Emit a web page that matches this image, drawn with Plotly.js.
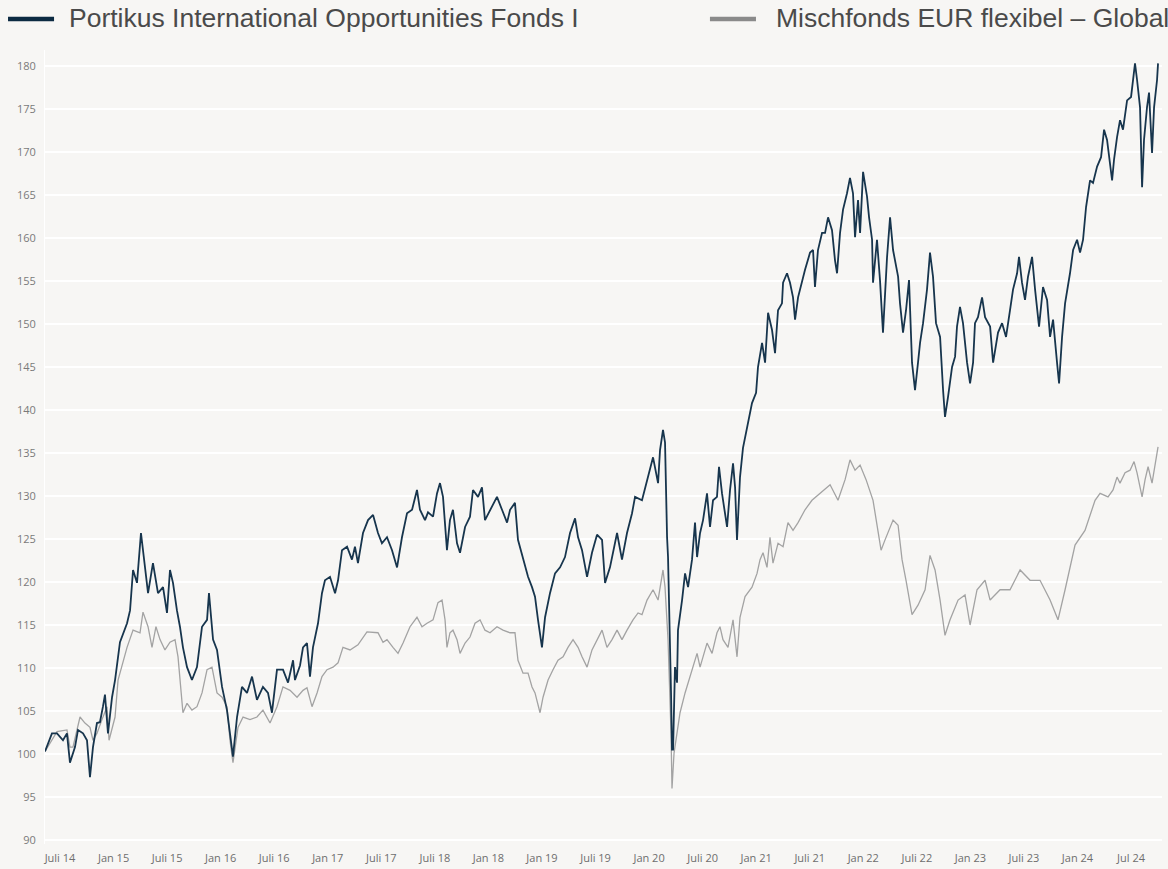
<!DOCTYPE html>
<html>
<head>
<meta charset="utf-8">
<script src="https://cdn.plot.ly/plotly-3.0.1.min.js"></script>
<style>
html,body{margin:0;padding:0;background:#f7f6f4;}
#chart{width:1168px;height:869px;}
</style>
</head>
<body>
<div id="chart"></div>
<script>
// Portikus International Opportunities Fonds I (time in decimal years, indexed value)
const portikusDates = [2014.360,2014.425,2014.472,2014.528,2014.565,2014.593,2014.640,2014.668,2014.715,2014.752,2014.780,2014.808,2014.845,2014.873,2014.901,2014.920,2014.948,2014.986,2015.014,2015.060,2015.126,2015.154,2015.182,2015.219,2015.256,2015.284,2015.322,2015.368,2015.415,2015.462,2015.499,2015.527,2015.555,2015.592,2015.620,2015.648,2015.686,2015.732,2015.779,2015.826,2015.873,2015.891,2015.929,2015.966,2016.013,2016.059,2016.087,2016.115,2016.153,2016.199,2016.246,2016.293,2016.339,2016.395,2016.442,2016.479,2016.526,2016.582,2016.629,2016.676,2016.694,2016.741,2016.769,2016.806,2016.834,2016.862,2016.909,2016.946,2016.974,2017.021,2017.068,2017.096,2017.133,2017.180,2017.226,2017.254,2017.282,2017.329,2017.376,2017.423,2017.469,2017.506,2017.553,2017.600,2017.647,2017.693,2017.740,2017.787,2017.833,2017.861,2017.908,2017.936,2017.983,2018.020,2018.048,2018.076,2018.113,2018.141,2018.169,2018.207,2018.235,2018.282,2018.328,2018.356,2018.403,2018.440,2018.468,2018.515,2018.580,2018.627,2018.674,2018.702,2018.748,2018.776,2018.823,2018.870,2018.907,2018.935,2018.963,2019.000,2019.029,2019.075,2019.122,2019.169,2019.215,2019.262,2019.309,2019.337,2019.374,2019.421,2019.467,2019.514,2019.561,2019.589,2019.635,2019.701,2019.747,2019.794,2019.841,2019.869,2019.934,2019.981,2020.037,2020.084,2020.102,2020.130,2020.149,2020.168,2020.177,2020.205,2020.214,2020.224,2020.242,2020.261,2020.270,2020.308,2020.336,2020.364,2020.401,2020.429,2020.448,2020.476,2020.504,2020.541,2020.569,2020.597,2020.634,2020.653,2020.681,2020.728,2020.756,2020.784,2020.803,2020.821,2020.849,2020.877,2020.924,2020.961,2020.999,2021.017,2021.055,2021.083,2021.111,2021.148,2021.176,2021.204,2021.241,2021.251,2021.288,2021.316,2021.344,2021.363,2021.391,2021.428,2021.456,2021.503,2021.531,2021.549,2021.577,2021.615,2021.643,2021.671,2021.708,2021.736,2021.755,2021.783,2021.811,2021.848,2021.876,2021.904,2021.923,2021.951,2021.970,2021.998,2022.035,2022.054,2022.082,2022.091,2022.128,2022.156,2022.175,2022.184,2022.222,2022.250,2022.278,2022.325,2022.343,2022.371,2022.399,2022.427,2022.455,2022.483,2022.511,2022.530,2022.558,2022.595,2022.623,2022.651,2022.679,2022.717,2022.745,2022.763,2022.791,2022.829,2022.857,2022.875,2022.903,2022.931,2022.969,2022.997,2023.025,2023.043,2023.071,2023.109,2023.137,2023.184,2023.212,2023.230,2023.258,2023.296,2023.333,2023.370,2023.398,2023.436,2023.454,2023.482,2023.510,2023.538,2023.576,2023.604,2023.641,2023.678,2023.716,2023.744,2023.772,2023.809,2023.828,2023.856,2023.884,2023.930,2023.959,2023.996,2024.024,2024.052,2024.080,2024.117,2024.145,2024.183,2024.220,2024.248,2024.276,2024.323,2024.341,2024.369,2024.397,2024.425,2024.463,2024.500,2024.537,2024.556,2024.584,2024.603,2024.621,2024.649,2024.668,2024.696,2024.715,2024.743,2024.752];
const portikusValues = [100.3,102.4,102.4,101.6,102.4,99.0,100.8,102.8,102.4,101.6,97.3,100.8,103.6,103.7,105.5,106.9,102.4,106.6,108.6,113.0,115.2,116.7,121.4,119.9,125.7,122.6,118.7,122.2,118.7,119.4,116.4,121.4,119.9,116.7,114.8,112.4,110.1,108.6,110.1,114.8,115.6,118.7,113.3,112.1,107.8,105.1,102.4,99.7,104.3,107.8,107.1,109.0,106.3,107.8,107.1,104.8,109.8,109.8,108.3,110.9,108.6,110.3,112.4,112.9,109.0,112.4,115.2,118.7,120.2,120.6,118.7,120.2,123.7,124.1,122.6,124.1,122.2,125.7,127.2,127.8,125.7,124.5,125.2,123.7,121.7,125.2,128.0,128.4,130.7,128.4,127.2,128.1,127.6,130.3,131.5,129.9,123.7,127.2,128.4,124.5,123.4,126.4,127.6,130.7,129.9,131.0,127.2,128.4,129.9,128.4,126.9,128.4,129.2,124.9,122.9,120.6,119.4,118.3,115.6,112.4,115.9,118.7,121.0,121.7,122.9,125.7,127.4,125.2,123.7,120.6,123.4,125.5,124.9,119.9,121.7,125.7,122.6,125.7,128.0,129.9,129.5,131.9,134.5,131.5,135.3,137.7,136.2,125.2,122.9,107.1,100.5,100.5,110.1,108.3,114.4,117.9,121.0,119.4,122.6,126.9,122.9,125.7,127.2,130.3,126.4,129.5,129.9,133.4,130.3,126.4,130.7,133.8,131.0,124.9,132.2,135.6,138.5,140.8,142.0,145.0,147.8,145.5,151.3,149.3,146.6,151.6,152.4,154.8,155.9,154.8,153.1,150.5,153.1,155.1,156.3,158.3,158.6,154.3,158.6,160.6,160.6,162.4,160.9,157.4,155.9,160.6,163.3,165.2,167.0,165.2,160.1,164.4,160.6,167.7,164.8,162.4,159.8,154.8,159.8,155.1,151.6,149.0,157.8,162.4,158.6,155.5,152.4,149.0,151.6,155.1,145.5,142.3,145.5,147.8,150.1,154.0,158.3,155.5,150.1,148.5,142.3,139.2,141.5,145.0,146.2,149.7,152.0,150.1,145.5,143.1,145.5,150.1,150.8,153.1,150.8,149.7,145.5,147.0,149.0,150.1,148.5,151.6,154.0,155.9,157.8,154.8,152.8,155.5,157.8,154.0,149.7,154.3,152.8,148.5,150.5,145.5,143.1,148.5,152.4,155.9,158.6,159.8,158.3,159.8,163.6,166.7,166.4,168.3,169.4,172.6,171.4,166.7,169.1,171.7,173.7,172.6,176.0,176.4,180.3,178.4,175.2,165.9,171.4,175.2,176.9,169.9,175.2,178.4,180.3];

// Mischfonds EUR flexibel – Global (peer group)
const mischDates = [2014.360,2014.472,2014.565,2014.593,2014.621,2014.687,2014.733,2014.780,2014.808,2014.845,2014.892,2014.939,2014.958,2015.014,2015.042,2015.126,2015.182,2015.247,2015.275,2015.322,2015.359,2015.396,2015.434,2015.480,2015.527,2015.574,2015.602,2015.648,2015.686,2015.732,2015.779,2015.826,2015.873,2015.919,2015.966,2016.013,2016.059,2016.087,2016.115,2016.162,2016.209,2016.274,2016.339,2016.395,2016.461,2016.526,2016.582,2016.648,2016.713,2016.769,2016.806,2016.853,2016.900,2016.946,2016.993,2017.049,2017.096,2017.142,2017.208,2017.282,2017.366,2017.423,2017.469,2017.516,2017.553,2017.609,2017.656,2017.703,2017.768,2017.833,2017.880,2017.927,2017.983,2018.029,2018.067,2018.095,2018.113,2018.141,2018.169,2018.207,2018.235,2018.282,2018.328,2018.375,2018.422,2018.468,2018.515,2018.580,2018.636,2018.702,2018.748,2018.776,2018.823,2018.870,2018.907,2018.935,2018.982,2019.010,2019.057,2019.103,2019.150,2019.197,2019.243,2019.290,2019.337,2019.374,2019.421,2019.467,2019.514,2019.561,2019.607,2019.654,2019.701,2019.747,2019.794,2019.850,2019.897,2019.934,2019.981,2020.037,2020.084,2020.130,2020.149,2020.168,2020.177,2020.205,2020.214,2020.233,2020.261,2020.289,2020.336,2020.382,2020.448,2020.476,2020.541,2020.588,2020.634,2020.662,2020.690,2020.737,2020.784,2020.821,2020.849,2020.896,2020.961,2021.008,2021.036,2021.064,2021.101,2021.129,2021.157,2021.204,2021.251,2021.297,2021.344,2021.391,2021.456,2021.521,2021.577,2021.624,2021.690,2021.764,2021.830,2021.876,2021.923,2021.970,2022.026,2022.091,2022.138,2022.166,2022.203,2022.278,2022.325,2022.362,2022.399,2022.455,2022.511,2022.577,2022.623,2022.670,2022.717,2022.763,2022.810,2022.885,2022.950,2022.997,2023.062,2023.137,2023.184,2023.277,2023.370,2023.464,2023.557,2023.650,2023.744,2023.818,2023.884,2023.977,2024.070,2024.164,2024.211,2024.285,2024.332,2024.369,2024.397,2024.444,2024.491,2024.528,2024.556,2024.603,2024.631,2024.659,2024.696,2024.724,2024.743,2024.752];
const mischValues = [100.3,102.6,102.8,100.8,100.8,104.3,103.6,103.1,101.6,102.4,104.0,105.5,101.6,104.3,108.6,112.4,114.4,114.1,116.5,114.8,112.4,114.8,113.3,112.1,113.0,113.3,111.3,104.8,105.9,105.1,105.5,107.1,109.8,110.1,107.1,106.6,105.5,101.6,99.0,103.1,104.3,104.0,104.3,105.1,103.6,105.5,107.8,107.4,106.6,107.4,107.7,105.5,107.1,109.0,109.8,110.1,110.6,112.4,112.1,112.7,114.2,114.1,114.1,113.0,113.3,112.4,111.7,112.9,114.8,115.9,114.8,115.2,115.6,117.6,117.9,115.6,112.4,114.1,114.4,113.3,111.7,112.9,113.6,115.2,115.6,114.4,114.1,114.8,114.4,114.1,114.1,110.9,109.4,109.4,107.8,107.1,104.8,106.6,108.6,109.8,110.9,111.3,112.4,113.3,112.4,111.3,110.1,112.1,113.3,114.4,112.4,113.3,114.4,113.3,114.4,115.6,116.4,116.2,117.9,119.1,117.9,121.4,119.4,114.1,113.3,102.4,96.0,100.1,102.4,104.8,107.1,109.0,111.7,110.1,112.9,111.7,114.1,114.8,113.3,112.4,115.6,111.3,115.9,118.3,119.4,121.0,122.6,123.4,121.7,125.2,122.2,124.5,124.1,126.9,126.0,126.9,128.4,129.5,130.1,130.7,131.3,129.5,131.9,134.2,133.0,133.6,131.9,129.5,126.0,123.7,124.9,127.2,126.6,122.6,120.2,116.2,117.3,119.1,123.1,121.4,117.9,113.8,115.6,117.9,118.5,115.0,119.1,120.2,117.9,119.1,119.1,121.4,120.2,120.2,117.9,115.6,119.1,124.3,126.0,129.5,130.3,129.9,130.7,132.2,131.5,132.7,133.0,134.0,132.7,129.9,131.9,133.4,131.5,133.8,135.3,135.7];

// Axis ticks
const xTickYears = [2014.5,2015.0,2015.5,2016.0,2016.5,2017.0,2017.5,2018.0,2018.5,2019.0,2019.5,2020.0,2020.5,2021.0,2021.5,2022.0,2022.5,2023.0,2023.5,2024.0,2024.5];
const xTickLabels = ["Juli 14","Jan 15","Juli 15","Jan 16","Juli 16","Jan 17","Juli 17","Juli 18","Jan 18","Jan 19","Juli 19","Jan 20","Juli 20","Jan 21","Juli 21","Jan 22","Juli 22","Jan 23","Juli 23","Jan 24","Jul 24"];
const yTickValues = [90,95,100,105,110,115,120,125,130,135,140,145,150,155,160,165,170,175,180];
const yTickLabels = ["90","95","100","105","110","115","120","125","130","135","140","145","150","155","160","165","170","175","180"];

const seriesNames = ["Portikus International Opportunities Fonds I","Mischfonds EUR flexibel – Global"];
const seriesColors = ["#17354d","#a3a3a3"];
const legendColors = ["#0c2a42","#8a8a8a"];

const traces = [
  {x: mischDates, y: mischValues, type:'scatter', mode:'lines', name: seriesNames[1],
   line:{color: seriesColors[1], width:1.3}, showlegend:false, hoverinfo:'x+y'},
  {x: portikusDates, y: portikusValues, type:'scatter', mode:'lines', name: seriesNames[0],
   line:{color: seriesColors[0], width:1.8}, showlegend:false, hoverinfo:'x+y'}
];

const layout = {
  width:1168, height:869,
  paper_bgcolor:'#f7f6f4', plot_bgcolor:'#f7f6f4',
  margin:{l:45, r:6, t:50, b:25},
  showlegend:false,
  xaxis:{
    range:[2014.360, 2024.789], showgrid:false, zeroline:false,
    tickmode:'array', tickvals:xTickYears, ticktext:xTickLabels,
    ticks:'', ticklabelstandoff:6,
    tickfont:{family:'Open Sans, Noto Sans, sans-serif', size:11, color:'#6e6e6e'},
    showline:false
  },
  yaxis:{
    range:[89.535, 181.86], zeroline:false,
    tickmode:'array', tickvals:yTickValues, ticktext:yTickLabels,
    gridcolor:'#ffffff', gridwidth:1.2,
    ticks:'', ticklabelstandoff:6,
    tickfont:{family:'Open Sans, Noto Sans, sans-serif', size:11, color:'#7a7a7a'},
    showline:true, linecolor:'#ffffff', linewidth:1
  },
  shapes:[
    {type:'line', xref:'paper', yref:'paper', x0:-0.0331, x1:0.0081, y0:1.0390, y1:1.0390,
     line:{color:legendColors[0], width:4.5}},
    {type:'line', xref:'paper', yref:'paper', x0:0.5953, x1:0.6365, y0:1.0390, y1:1.0390,
     line:{color:legendColors[1], width:4.5}}
  ],
  annotations:[
    {xref:'paper', yref:'paper', x:0.0197, y:1.0403, xanchor:'left', yanchor:'middle',
     text:seriesNames[0], showarrow:false,
     font:{family:'Liberation Sans, Arial, sans-serif', size:26.5, color:'#4a4a4a'}},
    {xref:'paper', yref:'paper', x:0.6526, y:1.0403, xanchor:'left', yanchor:'middle',
     text:seriesNames[1], showarrow:false,
     font:{family:'Liberation Sans, Arial, sans-serif', size:26.5, color:'#4a4a4a'}}
  ]
};

Plotly.newPlot('chart', traces, layout, {displayModeBar:false, staticPlot:true});
</script>
</body>
</html>
